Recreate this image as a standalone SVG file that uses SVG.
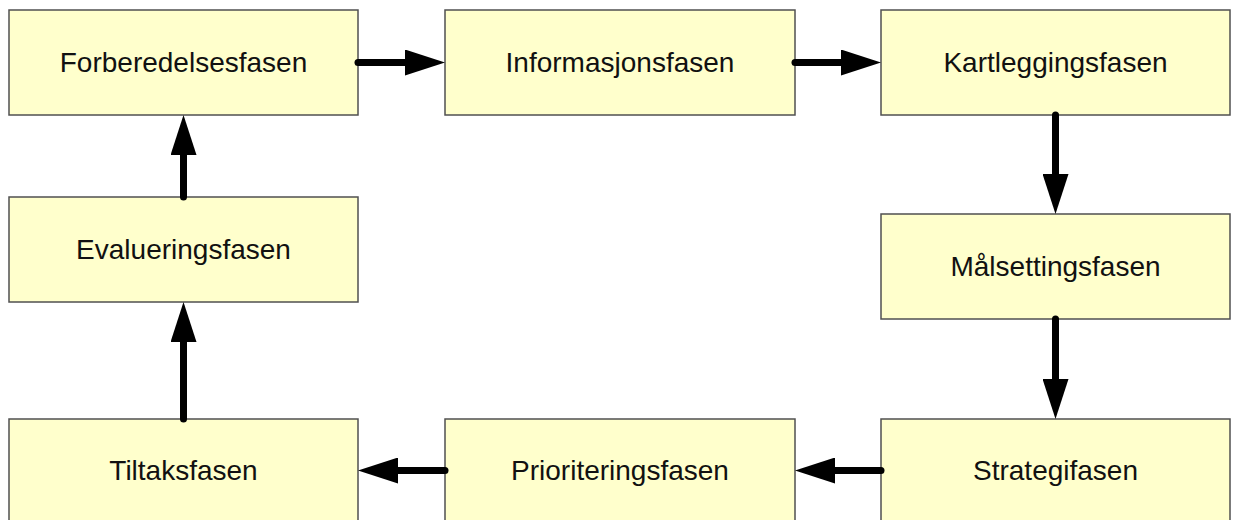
<svg xmlns="http://www.w3.org/2000/svg" width="1234" height="520" viewBox="0 0 1234 520">
<style>
.box{fill:#FFFFCC;stroke:#505050;stroke-width:1.5}
.lbl{font-family:"Liberation Sans",Arial,sans-serif;font-size:28px;fill:#111;text-anchor:middle}
.conn{stroke:#000;stroke-width:7;stroke-linecap:round;fill:none;marker-end:url(#ah)}
</style>
<defs>
<marker id="ah" markerUnits="userSpaceOnUse" viewBox="0 0 40 26" markerWidth="40" markerHeight="26" refX="0" refY="13" orient="auto">
<path d="M0,0 L40,13 L0,26 z" fill="#000"/>
</marker>
</defs>
<rect width="1234" height="520" fill="#fff"/>
<g id="n-forberedelse"><rect class="box" x="9" y="10" width="349" height="105"/><text class="lbl" x="183.5" y="72">Forberedelsesfasen</text></g>
<g id="n-informasjon"><rect class="box" x="445" y="10" width="350" height="105"/><text class="lbl" x="620" y="72">Informasjonsfasen</text></g>
<g id="n-kartlegging"><rect class="box" x="881" y="10" width="349" height="105"/><text class="lbl" x="1055.5" y="72">Kartleggingsfasen</text></g>
<g id="n-malsetting"><rect class="box" x="881" y="214" width="349" height="105"/><text class="lbl" x="1055.5" y="276">Målsettingsfasen</text></g>
<g id="n-strategi"><rect class="box" x="881" y="419" width="349" height="110"/><text class="lbl" x="1055.5" y="480">Strategifasen</text></g>
<g id="n-prioritering"><rect class="box" x="445" y="419" width="350" height="110"/><text class="lbl" x="620" y="480">Prioriteringsfasen</text></g>
<g id="n-tiltak"><rect class="box" x="9" y="419" width="349" height="110"/><text class="lbl" x="183.5" y="480">Tiltaksfasen</text></g>
<g id="n-evaluering"><rect class="box" x="9" y="197" width="349" height="105"/><text class="lbl" x="183.5" y="259">Evalueringsfasen</text></g>
<g id="connectors">
<path class="conn" d="M358,62.5 L405,62.5"/>
<path class="conn" d="M795,62.5 L841,62.5"/>
<path class="conn" d="M1055.5,115 L1055.5,174"/>
<path class="conn" d="M1055.5,319 L1055.5,379"/>
<path class="conn" d="M881,470.5 L835,470.5"/>
<path class="conn" d="M445,470.5 L398,470.5"/>
<path class="conn" d="M183.5,419 L183.5,342"/>
<path class="conn" d="M183.5,197 L183.5,155"/>
</g>
</svg>
